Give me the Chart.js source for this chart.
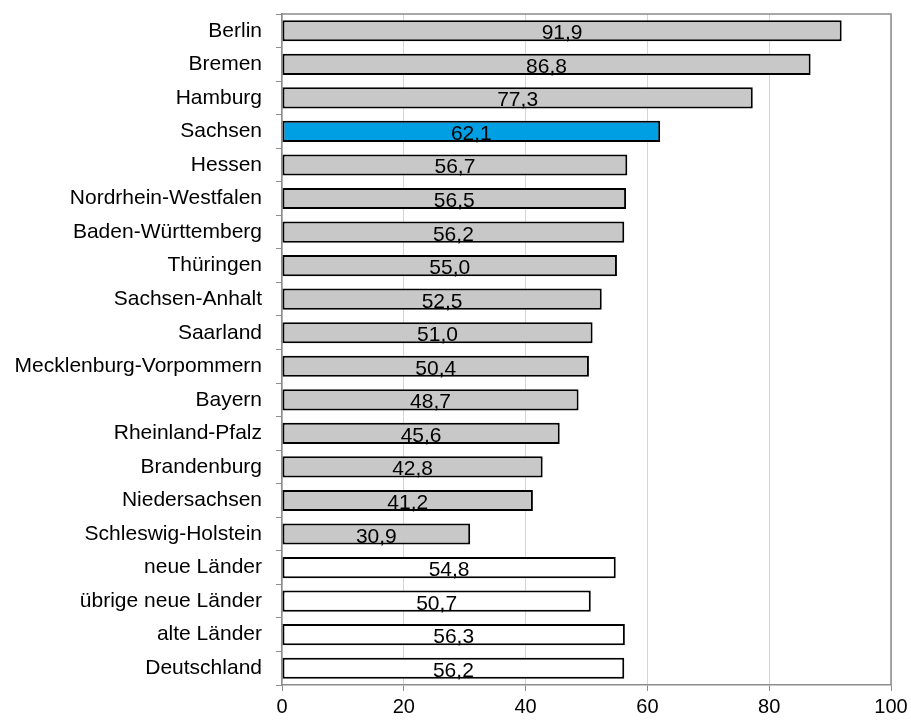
<!DOCTYPE html>
<html>
<head>
<meta charset="utf-8">
<script src="https://cdn.jsdelivr.net/npm/chart.js@4"></script>
<style>
  html, body { margin: 0; padding: 0; background: #fff; }
  #wrap { width: 911px; height: 720px; }
</style>
</head>
<body>
<div id="wrap"><canvas id="c" width="911" height="720"></canvas></div>
<script>
// Länder und Werte (von oben nach unten)
var LAENDER = [
  'Berlin', 'Bremen', 'Hamburg', 'Sachsen', 'Hessen', 'Nordrhein-Westfalen',
  'Baden-Württemberg', 'Thüringen', 'Sachsen-Anhalt', 'Saarland',
  'Mecklenburg-Vorpommern', 'Bayern', 'Rheinland-Pfalz', 'Brandenburg',
  'Niedersachsen', 'Schleswig-Holstein', 'neue Länder', 'übrige neue Länder',
  'alte Länder', 'Deutschland'
];
var WERTE = [91.9, 86.8, 77.3, 62.1, 56.7, 56.5, 56.2, 55.0, 52.5, 51.0,
             50.4, 48.7, 45.6, 42.8, 41.2, 30.9, 54.8, 50.7, 56.3, 56.2];
// Gruppe: 'land', 'sachsen', 'summe'
var GRUPPE = ['land', 'land', 'land', 'sachsen', 'land', 'land', 'land', 'land',
              'land', 'land', 'land', 'land', 'land', 'land', 'land', 'land',
              'summe', 'summe', 'summe', 'summe'];
var X_TICKS = [0, 20, 40, 60, 80, 100];

var FARBEN = { land: '#c8c8c8', sachsen: '#009fe3', summe: '#ffffff' };
var AXIS_COLOR = '#8c8c8c';
var FONT = 'Liberation Sans, Arial, sans-serif';

// Werte in die Balken schreiben (Dezimalkomma)
var wertLabels = {
  id: 'wertLabels',
  afterDatasetsDraw: function (chart) {
    var ctx = chart.ctx;
    var meta = chart.getDatasetMeta(0);
    ctx.save();
    ctx.fillStyle = '#000';
    ctx.font = '21px ' + FONT;
    ctx.textAlign = 'center';
    ctx.textBaseline = 'alphabetic';
    meta.data.forEach(function (bar, i) {
      var cx = (bar.base + bar.x) / 2;
      ctx.fillText(WERTE[i].toFixed(1).replace('.', ','), cx, bar.y + 8.5);
    });
    ctx.restore();
  }
};

// Rahmen oben/rechts um die Zeichenfläche
var rahmen = {
  id: 'rahmen',
  beforeDatasetsDraw: function (chart) {
    var a = chart.chartArea;
    var ctx = chart.ctx;
    ctx.save();
    ctx.strokeStyle = AXIS_COLOR;
    ctx.lineWidth = 1.5;
    ctx.beginPath();
    ctx.moveTo(a.left, a.top);
    ctx.lineTo(a.right, a.top);
    ctx.lineTo(a.right, a.bottom);
    ctx.stroke();
    ctx.restore();
  }
};

new Chart(document.getElementById('c'), {
  type: 'bar',
  data: {
    labels: LAENDER,
    datasets: [{
      data: WERTE,
      backgroundColor: GRUPPE.map(function (g) { return FARBEN[g]; }),
      borderColor: '#000',
      borderWidth: 2,
      borderSkipped: false,
      categoryPercentage: 1,
      barPercentage: 0.63
    }]
  },
  options: {
    indexAxis: 'y',
    responsive: false,
    animation: false,
    devicePixelRatio: 1,
    layout: { padding: { top: 14, right: 20, left: 0, bottom: 0 } },
    plugins: { legend: { display: false }, tooltip: { enabled: false } },
    scales: {
      x: {
        min: 0,
        max: 100,
        afterBuildTicks: function (scale) {
          scale.ticks = X_TICKS.map(function (v) { return { value: v }; });
        },
        afterFit: function (scale) {
          scale.height = 35;
          scale.paddingLeft = 0;
          scale.paddingRight = 0;
        },
        border: { color: AXIS_COLOR, width: 1.5 },
        grid: {
          color: '#d4d4d4',
          borderDash: [1, 2],
          tickLength: 6,
          tickColor: AXIS_COLOR,
          tickBorderDash: []
        },
        ticks: { color: '#000', font: { family: FONT, size: 20, lineHeight: 1 }, padding: 6 }
      },
      y: {
        afterFit: function (scale) {
          scale.width = 282;
          scale.paddingTop = 0;
          scale.paddingBottom = 0;
        },
        border: { color: AXIS_COLOR, width: 1.5 },
        grid: {
          offset: true,
          drawOnChartArea: false,
          tickLength: 6,
          color: AXIS_COLOR
        },
        ticks: { color: '#000', font: { family: FONT, size: 21, lineHeight: 1 }, padding: 14 }
      }
    }
  },
  plugins: [rahmen, wertLabels]
});
</script>
</body>
</html>
